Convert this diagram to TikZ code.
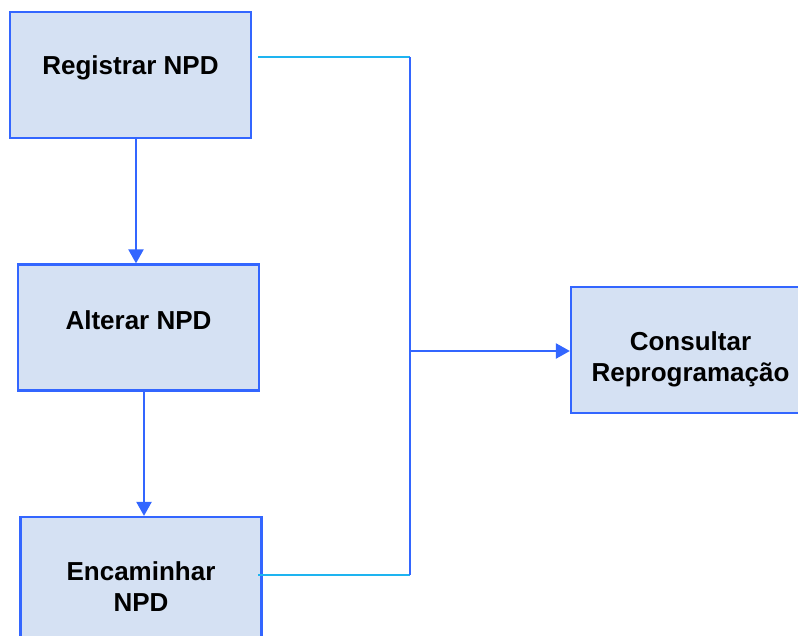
\documentclass[tikz,border=0pt]{standalone}
\usepackage{fontspec}
\setmainfont{Liberation Sans}
\usetikzlibrary{arrows.meta}
\definecolor{boxfill}{RGB}{213,225,243}
\definecolor{boxline}{RGB}{51,102,255}
\definecolor{cyanline}{RGB}{30,180,240}
\tikzset{
  procbox/.style={draw=boxline, fill=boxfill, line width=2.2pt, minimum width=241pt, minimum height=126pt, inner sep=0pt},
  lbl/.style={font=\fontsize{26}{31}\selectfont\bfseries, align=center, inner sep=0pt, anchor=base},
  arr/.style={draw=boxline, line width=2.2pt, -{Triangle[width=15pt,length=14pt]}},
  bline/.style={draw=boxline, line width=2.2pt},
  cline/.style={draw=cyanline, line width=2.2pt},
}
\begin{document}
\begin{tikzpicture}[x=1pt,y=-1pt]
\useasboundingbox (0,0) rectangle (798,635);
\clip (0,0) rectangle (798,635);
\node[procbox] (reg) at (130.5,75) {};
\node[procbox] (alt) at (138.5,327.5) {};
\node[procbox] (enc) at (141,580) {};
\node[procbox, minimum width=239pt] (con) at (690.5,350) {};
\node[lbl] (tReg) at (130.5,74) {Registrar NPD};
\node[lbl] (tAlt) at (138.5,329) {Alterar NPD};
\node[lbl] (tEnc) at (141,611) {Encaminhar\\NPD};
\node[lbl] (tCon) at (690.5,381) {Consultar\\Reprogramação};
\coordinate (xa) at (136,0);
\coordinate (xb) at (144,0);
\coordinate (ct) at (258,57);
\coordinate (jt) at (410,57);
\coordinate (jm) at (410,351);
\coordinate (jb) at (410,575);
\coordinate (cb) at (258,575);
\draw[arr] (reg.south -| xa) -- (alt.north -| xa);
\draw[arr] (alt.south -| xb) -- (enc.north -| xb);
\draw[cline] (ct) -- (jt);
\draw[cline] (cb) -- (jb);
\draw[bline] (jt) -- (jb);
\draw[arr] (jm) -- (jm -| con.west);
\end{tikzpicture}
\end{document}
